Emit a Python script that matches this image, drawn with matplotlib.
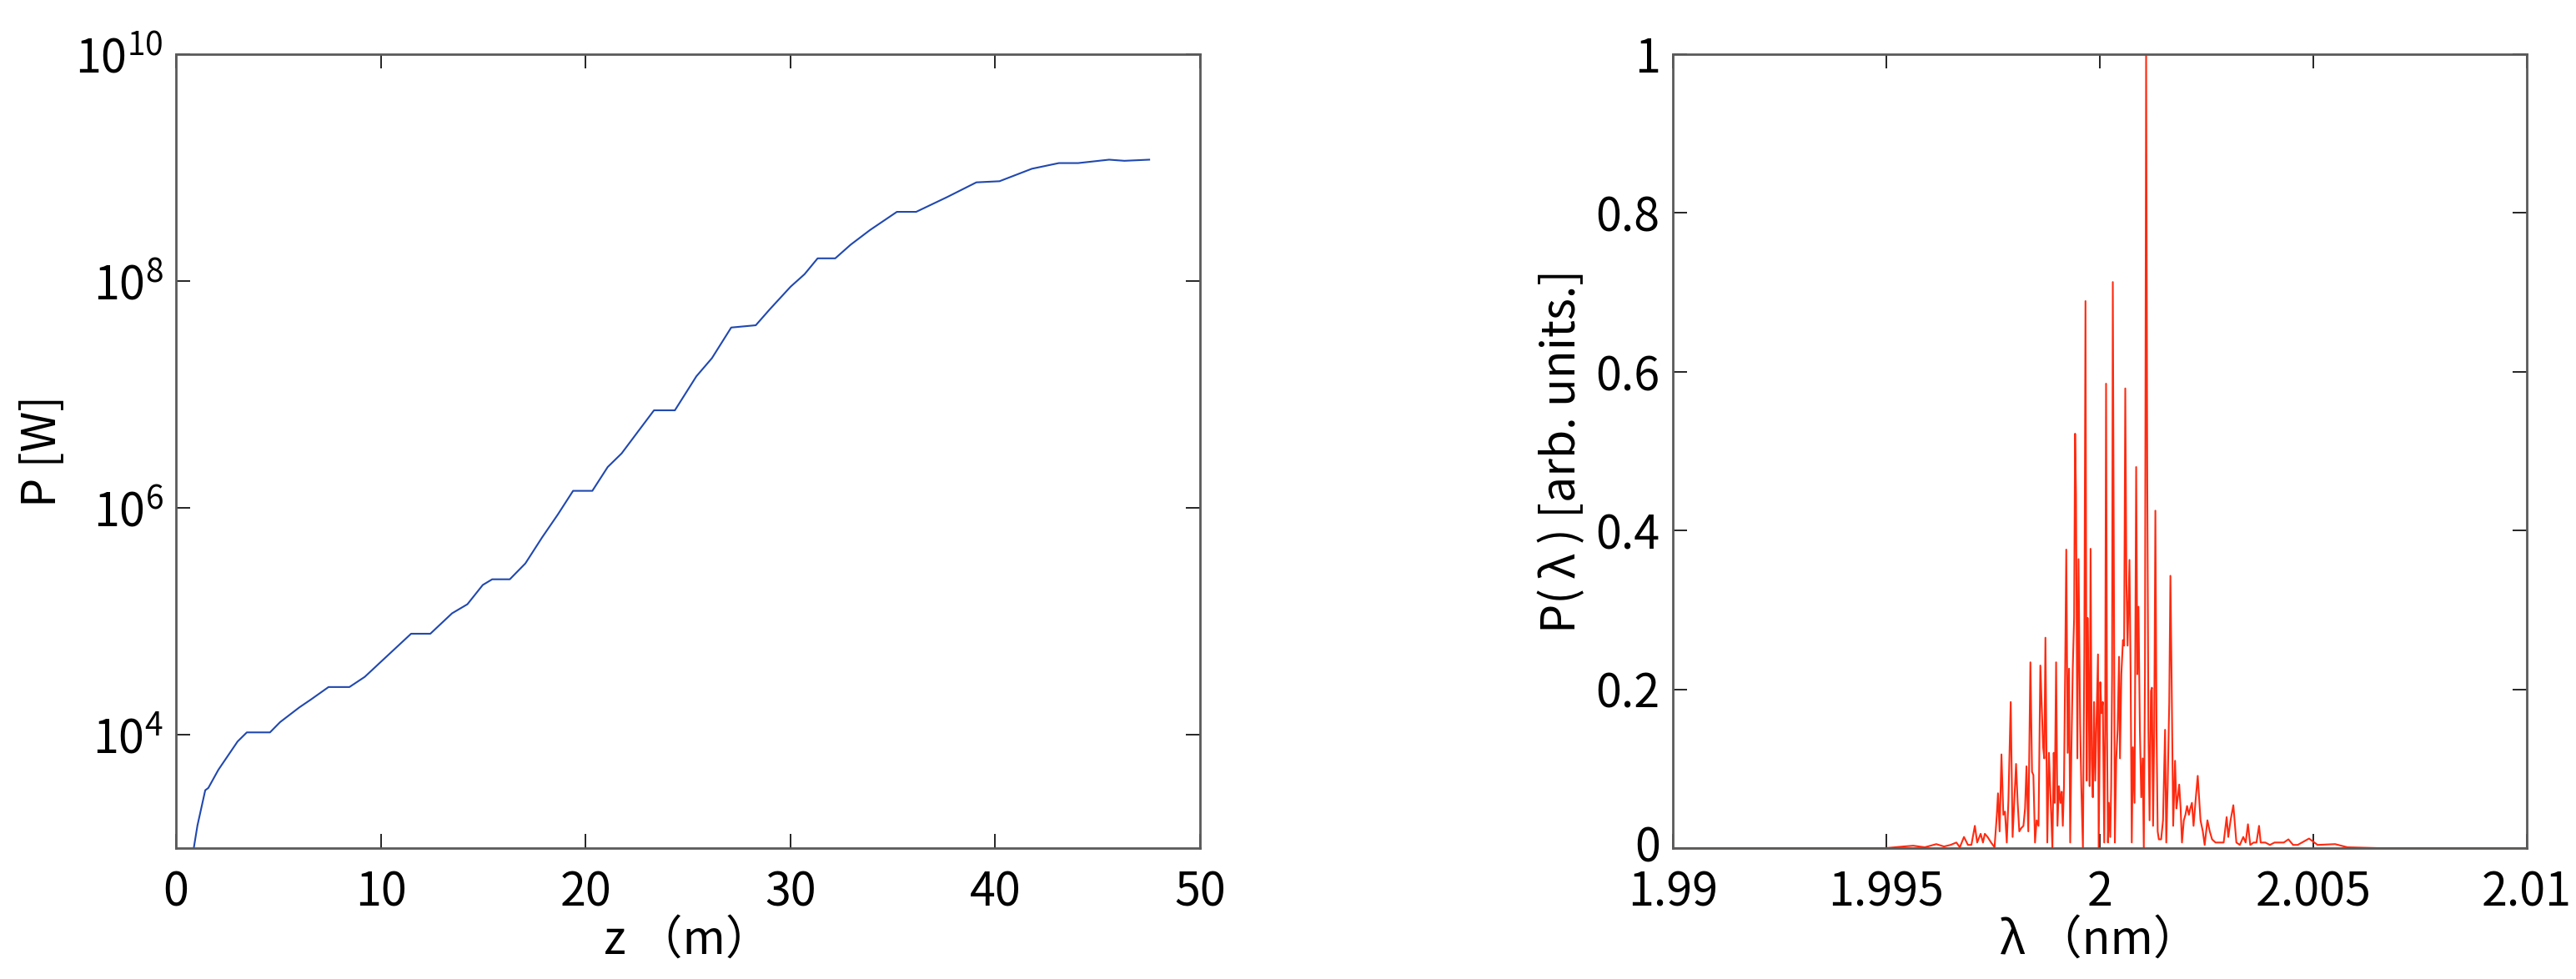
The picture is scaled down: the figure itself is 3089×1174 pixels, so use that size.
import matplotlib
matplotlib.use("Agg")
import matplotlib.pyplot as plt
import matplotlib.transforms as mtransforms
import numpy as np
from matplotlib.ticker import FixedLocator, NullLocator, FuncFormatter

# --- data: left panel, peak power along the undulator ---
z_m = [0.87, 1.05, 1.43, 1.58, 2.07, 3.01, 3.46, 4.59, 5.08, 6.02, 6.59, 7.45,
       8.47, 9.22, 10.17, 11.48, 12.42, 13.48, 14.23, 14.98, 15.44, 16.3, 17.06,
       17.88, 18.64, 19.39, 20.33, 21.08, 21.76, 22.59, 23.34, 24.36, 25.41,
       26.17, 27.11, 28.31, 28.99, 30.01, 30.69, 31.33, 32.19, 32.94, 33.89,
       35.2, 36.14, 37.65, 39.08, 40.21, 41.79, 43.11, 44.05, 45.56, 46.31, 47.52]
log10_P = [3.0, 3.2, 3.51, 3.53, 3.69, 3.94, 4.02, 4.02, 4.11, 4.24, 4.31, 4.42,
           4.42, 4.51, 4.67, 4.89, 4.89, 5.07, 5.15, 5.32, 5.37, 5.37, 5.51,
           5.74, 5.94, 6.15, 6.15, 6.36, 6.48, 6.68, 6.86, 6.86, 7.16,
           7.32, 7.59, 7.61, 7.75, 7.95, 8.06, 8.20, 8.20, 8.32, 8.45,
           8.61, 8.61, 8.74, 8.87, 8.88, 8.99, 9.04, 9.04, 9.07, 9.06, 9.07]
P_W = [10 ** v for v in log10_P]

# --- data: right panel, spectrum (wavelength offset from 2 nm, in pm) ---
dlam_pm = [-10.0, -5.0, -4.6, -4.37, -4.1, -3.83, -3.65,
           -3.496, -3.360, -3.279, -3.182, -3.089, -3.008, -2.927, -2.873, -2.791,
           -2.737, -2.694, -2.629, -2.547, -2.466, -2.412, -2.385, -2.347, -2.304,
           -2.260, -2.222, -2.179, -2.141, -2.087, -2.043, -2.000, -1.962, -1.924,
           -1.886, -1.843, -1.789, -1.751, -1.718, -1.675, -1.626, -1.588, -1.556,
           -1.518, -1.480, -1.436, -1.393, -1.355, -1.328, -1.301, -1.274, -1.230,
           -1.192, -1.154, -1.111, -1.079, -1.057, -1.024, -0.992, -0.959, -0.921,
           -0.894, -0.867, -0.840, -0.813, -0.786, -0.753, -0.721, -0.694, -0.667,
           -0.634, -0.602, -0.580, -0.558, -0.526, -0.499, -0.461, -0.434, -0.396,
           -0.363, -0.336, -0.309, -0.287, -0.260, -0.238, -0.217, -0.190, -0.163,
           -0.136, -0.108, -0.081, -0.043, -0.027, 0.011, 0.038, 0.070, 0.103,
           0.125, 0.146, 0.168, 0.190, 0.211, 0.244, 0.266, 0.287, 0.304, 0.325,
           0.352, 0.385, 0.417, 0.450, 0.472, 0.504, 0.542, 0.569, 0.596, 0.623,
           0.650, 0.678, 0.694, 0.721, 0.748, 0.775, 0.813, 0.851, 0.878, 0.905,
           0.938, 0.970, 1.003, 1.030, 1.057, 1.084, 1.111, 1.138, 1.165, 1.198,
           1.220, 1.247, 1.274, 1.301, 1.328, 1.355, 1.382, 1.436, 1.480, 1.528,
           1.556, 1.588, 1.626, 1.653, 1.680, 1.718, 1.762, 1.794, 1.827, 1.859,
           1.892, 1.924, 1.967, 2.005, 2.043, 2.087, 2.119, 2.157, 2.195, 2.249,
           2.293, 2.358, 2.412, 2.455, 2.520, 2.575, 2.629, 2.710, 2.818, 2.900,
           2.970, 3.008, 3.062, 3.127, 3.198, 3.279, 3.360, 3.415, 3.469, 3.523,
           3.604, 3.669, 3.729, 3.767, 3.875, 3.984, 4.092, 4.201, 4.309, 4.417,
           4.526, 4.634, 4.9, 5.1, 5.51, 5.8, 6.5, 10.0]
P_lam = [0.0, 0.0, 0.002, 0.003, 0.001, 0.005, 0.002,
         0.004, 0.007, 0.001, 0.014, 0.004, 0.004, 0.028, 0.007, 0.018,
         0.007, 0.018, 0.014, 0.007, 0.001, 0.042, 0.069, 0.021, 0.118,
         0.042, 0.046, 0.007, 0.060, 0.184, 0.014, 0.064, 0.106, 0.057,
         0.021, 0.025, 0.028, 0.050, 0.103, 0.021, 0.234, 0.096, 0.092,
         0.007, 0.035, 0.028, 0.230, 0.170, 0.127, 0.113, 0.265, 0.007,
         0.120, 0.064, 0.000, 0.120, 0.057, 0.234, 0.028, 0.078, 0.057,
         0.071, 0.028, 0.078, 0.219, 0.376, 0.120, 0.226, 0.007, 0.120,
         0.226, 0.290, 0.522, 0.446, 0.113, 0.364, 0.156, 0.078, 0.000,
         0.248, 0.689, 0.085, 0.290, 0.184, 0.078, 0.377, 0.113, 0.064,
         0.184, 0.085, 0.149, 0.244, 0.000, 0.209, 0.170, 0.184, 0.007,
         0.149, 0.585, 0.149, 0.007, 0.057, 0.014, 0.078, 0.219, 0.713, 0.396,
         0.007, 0.113, 0.149, 0.241, 0.113, 0.219, 0.262, 0.255, 0.579, 0.333,
         0.255, 0.326, 0.363, 0.219, 0.007, 0.127, 0.057, 0.480, 0.219, 0.304,
         0.149, 0.064, 0.113, 0.000, 0.219, 1.000, 0.467, 0.149, 0.035, 0.198,
         0.202, 0.028, 0.149, 0.425, 0.149, 0.021, 0.011, 0.011, 0.035, 0.149,
         0.007, 0.078, 0.184, 0.343, 0.219, 0.028, 0.110, 0.050, 0.064, 0.080,
         0.050, 0.007, 0.035, 0.042, 0.053, 0.042, 0.050, 0.057, 0.028, 0.064,
         0.091, 0.035, 0.021, 0.004, 0.035, 0.021, 0.011, 0.007, 0.007, 0.007,
         0.039, 0.014, 0.035, 0.054, 0.007, 0.004, 0.014, 0.007, 0.030, 0.004,
         0.007, 0.007, 0.028, 0.007, 0.007, 0.004, 0.007, 0.007, 0.007, 0.011,
         0.004, 0.004, 0.012, 0.004, 0.005, 0.001, 0.0, 0.0]
lam_nm = [2.0 + d * 1e-3 for d in dlam_pm]

z_ticks = [0, 10, 20, 30, 40, 50]
P_ticks = [1e4, 1e6, 1e8, 1e10]
lam_ticks = [1.99, 1.995, 2.0, 2.005, 2.01]
Plam_ticks = [0, 0.2, 0.4, 0.6, 0.8, 1.0]

# narrow font, close to the condensed look of the original
plt.rcParams['font.family'] = ['Liberation Sans Narrow', 'Noto Sans CJK JP', 'DejaVu Sans']
plt.rcParams['mathtext.fontset'] = 'custom'
plt.rcParams['mathtext.rm'] = 'Liberation Sans Narrow'
plt.rcParams['mathtext.it'] = 'Liberation Sans Narrow:italic'

FS = 40
W, H = 3089, 1174
fig = plt.figure(figsize=(W / 100, H / 100), dpi=100)
ax1 = fig.add_axes([211 / W, 1 - 1017 / H, 1228 / W, 952 / H])
ax2 = fig.add_axes([2006 / W, 1 - 1017 / H, 1024 / W, 952 / H])

ax1.semilogy(z_m, P_W, color='#2048b0', lw=1.5)
ax1.set_xlim(0, 50)
ax1.set_ylim(1e3, 1e10)
ax1.xaxis.set_major_locator(FixedLocator(z_ticks))
ax1.yaxis.set_major_locator(FixedLocator(P_ticks))
ax1.yaxis.set_minor_locator(NullLocator())
ax1.set_xlabel('z （m）', fontsize=FS, labelpad=0)
ax1.set_ylabel('P [W]', fontsize=FS, labelpad=8)

ax2.plot(lam_nm, P_lam, color='#ff2a10', lw=1.5)
ax2.set_xlim(1.99, 2.01)
ax2.set_ylim(0, 1)
ax2.xaxis.set_major_locator(FixedLocator(lam_ticks))
ax2.yaxis.set_major_locator(FixedLocator(Plam_ticks))
fmt = FuncFormatter(lambda v, p: '%g' % round(v, 4))
ax2.xaxis.set_major_formatter(fmt)
ax2.yaxis.set_major_formatter(fmt)
ax2.set_xlabel('λ （nm）', fontsize=FS, labelpad=0)
ax2.set_ylabel('P(\u2009λ\u2009) [arb. units.]', fontsize=FS, labelpad=8)

for ax in (ax1, ax2):
    ax.tick_params(which='both', direction='in', top=True, right=True,
                   length=12, width=1.2, labelsize=FS)
    ax.tick_params(axis='x', pad=18)
    ax.tick_params(axis='y', pad=11)
    for s in ax.spines.values():
        s.set_color('#5a5a5a')
        s.set_linewidth(2)

# the y label "0" sits right above the first x label, as in the original;
# nudge it up a few pixels so the two do not collide
nudge = mtransforms.ScaledTranslation(0, 6 / 100, fig.dpi_scale_trans)
for lab in ax2.get_yticklabels():
    if lab.get_text() == '0':
        lab.set_transform(lab.get_transform() + nudge)

fig.savefig('out.png', dpi=100)
